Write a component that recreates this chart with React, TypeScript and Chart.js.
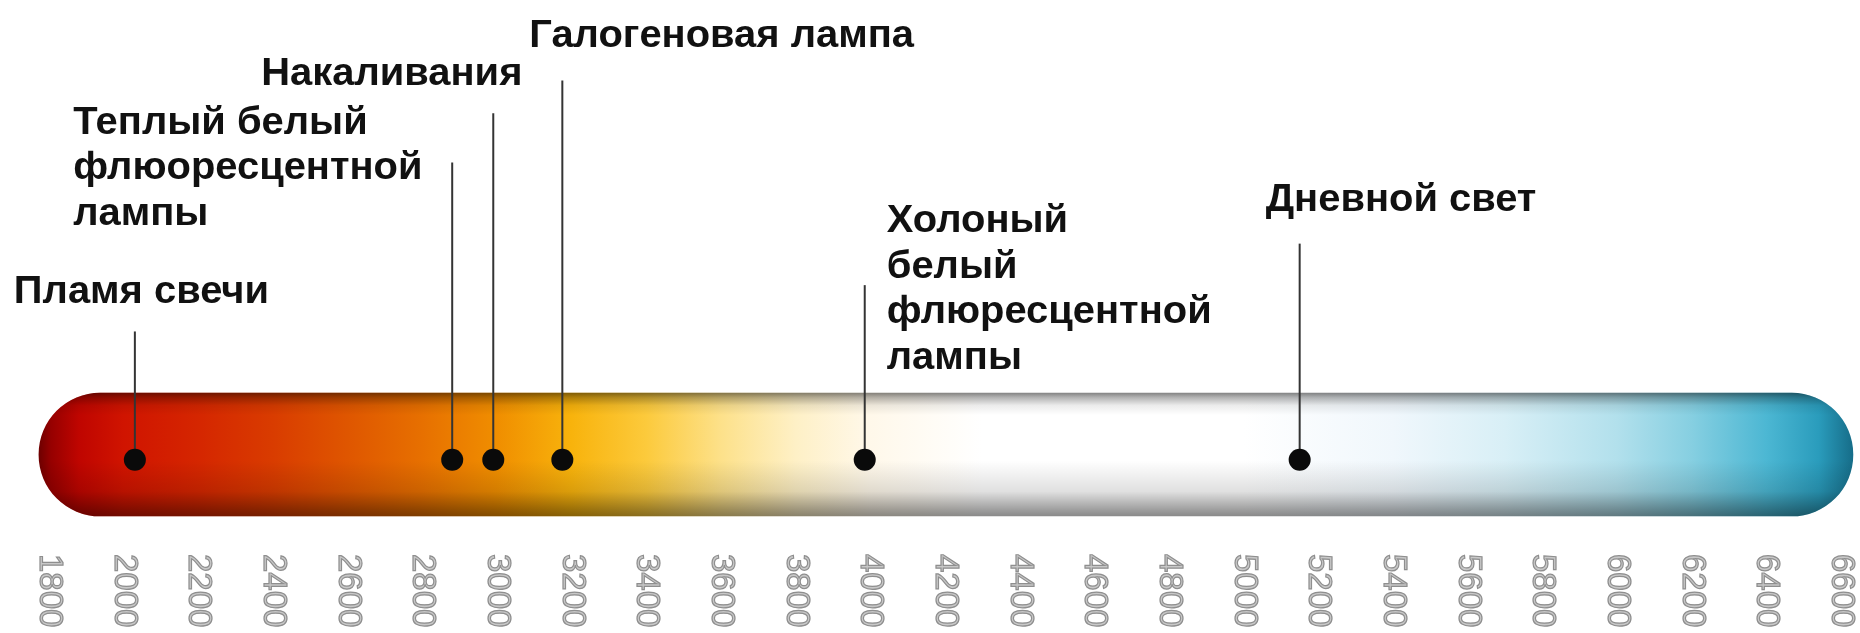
import React, { useEffect, useRef } from 'react';
import { Chart, registerables } from 'chart.js';

Chart.register(...registerables);

// ---- data ----
const tickValues = [1800, 2000, 2200, 2400, 2600, 2800, 3000, 3200, 3400, 3600, 3800, 4000, 4200, 4400, 4600, 4800, 5000, 5200, 5400, 5600, 5800, 6000, 6200, 6400, 6600];
const lampLabels: string[][] = [
  ['Пламя свечи'],
  ['Теплый белый', 'флюоресцентной', 'лампы'],
  ['Накаливания'],
  ['Галогеновая лампа'],
  ['Холоный', 'белый', 'флюресцентной', 'лампы'],
  ['Дневной свет'],
];
const lampTemps = [2030, 2880, 2990, 3175, 3985, 5150];
const spectrumRange = [1773, 6632];

// ---- layout (annotation placement, y in scale units above the bar line) ----
const MARKER_LEVEL = -4;
const BAR_LEVEL = 1.5;
const BAR_THICK = 123;
const stemTops = [129, 304, 355, 389, 177, 220];
const labelBaselines = [158, 334, 384, 424, 232, 254];
const labelOffsets = [-121, -379, -232, -33, 22, -34];
const lineGap = 45.5;
const TEXT_STRETCH = 1.05;

// ---- styles ----
const spectrumStops: [number, string][] = [
  [1773, '#6e0000'],
  [1805, '#960000'],
  [1880, '#bf0500'],
  [2000, '#d01400'],
  [2200, '#d52600'],
  [2400, '#d93c00'],
  [2600, '#df5600'],
  [2800, '#e77000'],
  [3000, '#f08e00'],
  [3200, '#f8b30c'],
  [3400, '#fcca3c'],
  [3600, '#fde18a'],
  [3800, '#fef0c6'],
  [4000, '#fff8ea'],
  [4300, '#ffffff'],
  [5000, '#ffffff'],
  [5400, '#f0f7fc'],
  [5700, '#d8eff6'],
  [6000, '#b2e0ec'],
  [6200, '#86cfe1'],
  [6400, '#4cb7d3'],
  [6540, '#2a9cbc'],
  [6632, '#166d89'],
];
const shadeStops: [number, string][] = [
  [0, 'rgba(0,0,0,0.48)'],
  [0.035, 'rgba(0,0,0,0.30)'],
  [0.1, 'rgba(0,0,0,0.08)'],
  [0.18, 'rgba(0,0,0,0)'],
  [0.55, 'rgba(0,0,0,0)'],
  [0.8, 'rgba(0,0,0,0.12)'],
  [0.95, 'rgba(0,0,0,0.38)'],
  [1, 'rgba(0,0,0,0.46)'],
];

const labelPlugin = {
  id: 'lampLabels',
  afterDatasetsDraw(chart: any) {
    const { ctx, scales } = chart;
    const xs = scales.x;
    const ys = scales.y;
    ctx.save();
    ctx.fillStyle = '#111111';
    ctx.font = 'bold 38px "Liberation Sans", Arial, sans-serif';
    ctx.textAlign = 'left';
    ctx.textBaseline = 'alphabetic';
    lampLabels.forEach((lines, i) => {
      const x = xs.getPixelForValue(lampTemps[i]) + labelOffsets[i];
      const y0 = ys.getPixelForValue(labelBaselines[i]);
      lines.forEach((t, j) => {
        ctx.save();
        ctx.translate(x, y0 + j * lineGap);
        ctx.scale(TEXT_STRETCH, 1);
        ctx.fillText(t, 0, 0);
        ctx.restore();
      });
    });
    // tick labels, rotated clockwise
    ctx.font = '33px "Liberation Sans", Arial, sans-serif';
    ctx.textBaseline = 'middle';
    ctx.lineWidth = 1.2;
    ctx.strokeStyle = '#8f8f8f';
    ctx.fillStyle = '#c8c8c8';
    xs.ticks.forEach((tk: any) => {
      const px = xs.getPixelForValue(tk.value);
      ctx.save();
      ctx.translate(px, 554);
      ctx.rotate(Math.PI / 2);
      ctx.fillText(String(tk.value), 0, 0);
      ctx.strokeText(String(tk.value), 0, 0);
      ctx.restore();
    });
    ctx.restore();
  },
};

export default function App() {
  const ref = useRef<HTMLCanvasElement>(null);
  useEffect(() => {
    document.body.style.margin = '0';
    document.body.style.overflow = 'hidden';
    const canvas = ref.current!;
    const spectrumFill = (c: any) => {
      const chart = c.chart;
      if (!chart.chartArea) return '#fff';
      const xs = chart.scales.x;
      const a = xs.getPixelForValue(spectrumRange[0]);
      const b = xs.getPixelForValue(spectrumRange[1]);
      const g = chart.ctx.createLinearGradient(a, 0, b, 0);
      spectrumStops.forEach(([t, col]) => g.addColorStop((t - spectrumRange[0]) / (spectrumRange[1] - spectrumRange[0]), col));
      return g;
    };
    const shadeFill = (c: any) => {
      const chart = c.chart;
      if (!chart.chartArea) return 'rgba(0,0,0,0)';
      const yc = chart.scales.y.getPixelForValue(BAR_LEVEL);
      const g = chart.ctx.createLinearGradient(0, yc - BAR_THICK / 2, 0, yc + BAR_THICK / 2);
      shadeStops.forEach(([s, col]) => g.addColorStop(s, col));
      return g;
    };
    const barCommon = {
      type: 'bar' as const,
      indexAxis: 'y' as const,
      data: [{ x: spectrumRange, y: BAR_LEVEL }],
      barThickness: BAR_THICK,
      borderRadius: BAR_THICK / 2,
      borderSkipped: false,
      borderWidth: 0,
      grouped: false,
      clip: false as any,
    };
    const stems = lampTemps.map((t, i) => ({
      type: 'line' as const,
      data: [{ x: t, y: MARKER_LEVEL }, { x: t, y: stemTops[i] }],
      borderColor: '#343434',
      borderWidth: 2,
      pointRadius: 0,
      fill: false,
      order: 1,
      clip: false as any,
    }));
    const chart = new Chart(canvas, {
      type: 'scatter',
      data: {
        datasets: [
          { ...barCommon, backgroundColor: spectrumFill, order: 3 } as any,
          { ...barCommon, backgroundColor: shadeFill, order: 2 } as any,
          ...stems,
          {
            type: 'scatter',
            data: lampTemps.map((t) => ({ x: t, y: MARKER_LEVEL })),
            pointRadius: 11,
            pointBackgroundColor: '#0a0a0a',
            pointBorderWidth: 0,
            order: 0,
            clip: false as any,
          } as any,
        ],
      },
      options: {
        responsive: false,
        animation: false,
        events: [],
        layout: { padding: { left: 49, right: 19, top: 0, bottom: 0 } },
        plugins: { legend: { display: false }, tooltip: { enabled: false } },
        scales: {
          x: {
            type: 'linear',
            min: tickValues[0],
            max: tickValues[tickValues.length - 1],
            offset: false,
            afterBuildTicks: (s: any) => {
              s.ticks = tickValues.map((v) => ({ value: v }));
            },
            ticks: { display: false },
            grid: { display: false, drawTicks: false },
            border: { display: false },
          },
          y: {
            type: 'linear',
            display: false,
            min: -172,
            max: 461,
            offset: false,
          },
        },
      },
      plugins: [labelPlugin],
    });
    return () => chart.destroy();
  }, []);
  return <canvas ref={ref} width={1860} height={633} style={{ display: 'block' }} />;
}
